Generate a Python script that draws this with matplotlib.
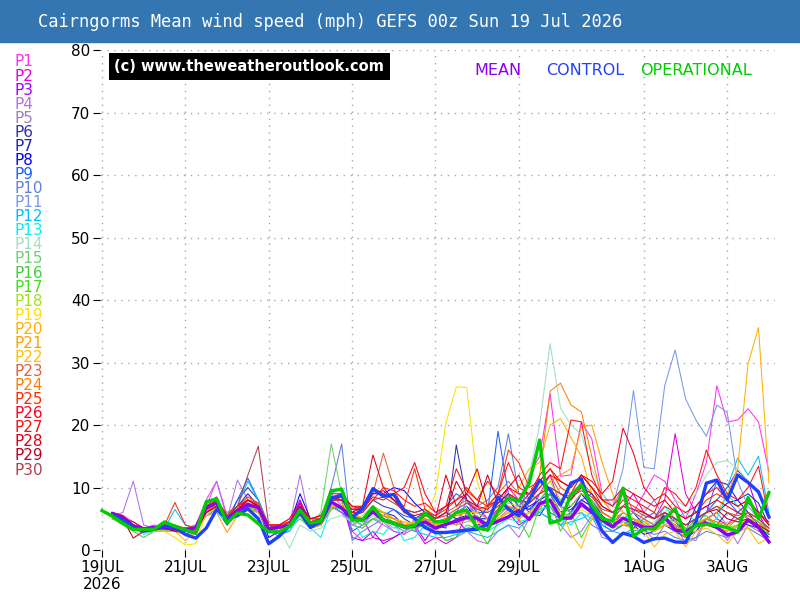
import numpy as np
import matplotlib
matplotlib.use("Agg")
import matplotlib.pyplot as plt
from matplotlib.patches import Rectangle

# forecast hours, 6-hourly from 00z Sun 19 Jul 2026
hours = list(range(0, 390, 6))

# operational run starts at t+0, all the rest at t+6
operational = [6.3, 5.4, 4.3, 3.3, 3.3, 3.3, 4.5, 3.8, 3.2, 2.7, 7.7, 8.2, 4.3, 5.9, 5.6, 4.2,
               2.9, 2.9, 3.8, 6.4, 4.3, 4.6, 9.5, 9.7, 4.8, 4.8, 6.9, 4.8, 4.3, 3.7, 3.9, 5.9,
               4.5, 4.6, 6.0, 6.4, 3.5, 3.2, 6.2, 8.3, 7.8, 10.7, 17.6, 4.3, 4.8, 8.8, 10.4, 7.2,
               5.0, 4.6, 9.9, 2.2, 3.4, 3.4, 5.0, 6.6, 2.4, 3.9, 4.1, 3.9, 3.6, 2.9, 8.4, 5.0, 9.2]

mean = [5.8, 5.2, 3.8, 3.4, 3.6, 3.5, 3.4, 3.2, 3.6, 6.8, 7.5, 4.9, 6.2, 7.2, 6.8, 3.3,
        3.7, 3.9, 6.7, 3.9, 4.5, 7.7, 6.7, 5.1, 4.8, 6.1, 4.8, 4.3, 3.7, 3.8, 4.5, 3.5,
        4.1, 4.6, 5.2, 5.1, 3.9, 4.6, 5.3, 6.3, 4.9, 7.4, 8.0, 5.1, 5.1, 7.4, 6.0, 4.8,
        3.7, 5.1, 4.3, 3.6, 3.6, 5.3, 3.2, 2.9, 3.9, 4.3, 3.6, 2.4, 2.9, 4.8, 3.6, 1.3]

control = [5.6, 4.8, 3.6, 3.0, 3.3, 3.8, 3.6, 2.5, 1.9, 3.5, 6.5, 5.0, 5.5, 6.6, 5.0, 1.0,
           2.2, 4.0, 6.0, 3.6, 4.6, 8.3, 8.8, 5.2, 6.6, 9.8, 8.6, 8.9, 6.4, 5.0, 3.6, 2.8,
           2.8, 3.0, 3.2, 3.3, 4.2, 8.5, 6.5, 5.5, 8.0, 11.2, 9.6, 7.2, 10.7, 11.4, 6.5, 3.0,
           1.2, 2.7, 2.2, 1.2, 1.8, 1.9, 1.3, 1.2, 4.5, 10.7, 11.2, 8.0, 12.0, 10.8, 9.3, 5.3]

p1 = [6, 5.5, 4.5, 3.5, 4, 3.5, 3, 3.5, 4, 8, 11, 5.5, 7, 8, 7.5, 3,
      4, 5, 8, 4, 5, 9, 7, 3, 1.5, 2, 4.5, 3, 2.5, 5, 6, 4,
      5, 4, 8, 5, 3, 6, 9, 4.5, 12, 15, 25, 11.8, 12, 20.5, 17.8, 9,
      7, 10, 6, 9, 12, 11, 8, 5, 9, 14, 26.3, 20.5, 20.8, 22.6, 20.5, 12.5]
p2 = [5.5, 5, 3.5, 3, 3.5, 4, 3.5, 3, 3.5, 7, 8.5, 5, 6.5, 7.5, 6, 3,
      3.5, 4, 7, 4.5, 4, 7, 6, 4, 5, 2, 1.5, 2, 3, 3.5, 1, 2,
      1, 2, 6, 7, 5, 6.5, 10, 8, 6, 9, 12, 7, 6, 9, 8, 6,
      5, 7, 9, 6, 5, 8, 18.6, 9, 6, 7, 5, 4, 6, 5.5, 4.5, 3]
p3 = [5, 4.5, 3.5, 3, 3, 3.5, 4, 3, 3, 6.5, 7, 4.5, 6, 8, 7, 3.5,
      4, 3.5, 8, 4, 5, 8, 8, 2, 1.5, 3, 1, 2, 3, 4, 1.5, 4,
      4, 5, 3, 4, 4.5, 5, 6, 4, 5, 7, 9, 6, 5, 8, 7, 5,
      4, 6, 5, 4, 3, 5, 4, 3, 5, 6, 8, 10, 12.7, 11, 6, 2.5]
p4 = [5.5, 6, 11, 4, 3.5, 3, 3.5, 3.5, 3.5, 7, 11, 5, 11.2, 8, 7, 3.5,
      3, 4, 12, 4, 4.5, 7, 6, 4, 3.5, 5, 4, 3, 2.5, 3.5, 4, 3,
      1.5, 2, 3, 1.5, 1, 3, 4, 2, 5, 8, 7, 4, 2, 3, 5.5, 2,
      1.5, 2.5, 3.5, 6, 8, 5, 4, 1, 2, 5, 4, 1.5, 4, 5, 3.5, 1]
p5 = [5, 4.5, 4, 3.5, 3, 3, 3, 2.5, 3, 6, 7.5, 5.5, 7, 7, 6.5, 4,
      4, 4.5, 6, 3.5, 4, 6.5, 7, 5.5, 5, 6, 5, 4.5, 3.5, 3, 4.5, 4,
      5, 6, 5, 4, 3.5, 5, 6.5, 7, 5, 6, 8, 6, 5, 7, 6, 5,
      4.5, 6, 5, 3.5, 1.5, 4, 5, 2, 1.5, 5, 6, 4, 1, 4, 3, 2]
p6 = [5.5, 5.5, 4, 3.5, 3.5, 4, 3.5, 3.5, 3, 6, 6.5, 4.5, 8, 10, 8, 4,
      3, 4, 7.5, 4, 5, 8.5, 8, 5.5, 6, 8, 7, 6.5, 5, 4, 5, 4,
      3.5, 16.8, 8, 6, 5, 6, 7, 5, 6, 5.5, 8, 6, 6.5, 8, 7, 5,
      4, 5, 4.5, 3, 4, 5, 3.5, 3, 4, 5, 4, 6, 5, 4, 3.5, 2.5]
p7 = [6, 5, 3.5, 3, 3.5, 3.5, 3, 3, 3.5, 6.5, 7, 5, 7, 9, 7, 3,
      3.5, 3.5, 6.5, 4, 4.5, 7, 6, 5, 4.5, 6.5, 6, 5.5, 4, 3.5, 5.5, 5,
      6, 5, 5.5, 4.5, 7, 9, 8, 6, 7, 8, 10, 7, 6, 9, 8, 5.5,
      4, 5, 6, 4, 3, 6, 4.5, 3, 7, 9, 11, 10.5, 8, 9, 7.5, 4]
p8 = [6, 5, 4, 3.5, 3.5, 3.5, 3.5, 3, 2.5, 6, 6.5, 4, 6, 7, 6.5, 2,
      3, 4, 9, 5, 5, 8, 8.5, 6, 7, 9, 9, 10, 9.5, 7.5, 6, 4.5,
      5, 6, 7, 5, 5, 7.5, 9, 7, 6.5, 8, 9, 6, 7, 9, 7, 4,
      3, 4, 4, 2.5, 3, 4, 3, 2, 3, 5, 6, 7.5, 8, 6, 4, 2]
p9 = [5.5, 5, 3.5, 3, 3.5, 3.5, 3, 2.5, 3.5, 6, 7, 5, 8, 11.5, 8, 3.5,
      2.5, 3, 6, 3.5, 4, 8, 9, 3, 4, 6, 5.5, 6.5, 5.5, 5, 6, 5.5,
      7, 9, 8, 6, 6, 19, 9, 7, 9, 8, 6, 5, 6, 8, 9, 6,
      5, 4, 3.5, 5, 6, 4, 3, 2, 4, 6, 11, 8, 6, 5, 4, 3]
p10 = [5, 4.5, 3.5, 3, 3, 3.5, 3.5, 3, 3, 5.5, 6.5, 4.5, 6.5, 8, 7, 3.5,
       2, 3.5, 6, 4, 5, 10, 17, 1.5, 3, 4, 5, 4, 3, 4.5, 5, 3.5,
       4, 6, 9, 7, 8, 10, 18.6, 9, 7, 6, 5, 4, 5.5, 6, 4, 3,
       3, 4, 5, 3, 2.5, 3, 2, 1.5, 2, 3, 2.5, 2, 3, 3.5, 2.5, 1.5]
p11 = [5.5, 5, 4, 3.5, 3.5, 3.5, 3.5, 3, 3.5, 6.5, 7.5, 5, 6, 7.5, 7, 4,
       4, 4.5, 6.5, 4, 4.5, 7, 6, 4.5, 4, 5, 4.5, 3.5, 4, 4.5, 5, 4,
       5, 6, 7, 6, 5, 6, 7, 5, 6, 7, 9, 8, 9, 12, 10, 8,
       7, 13, 25.5, 13.2, 13, 26.3, 32, 24.2, 20.8, 18.2, 23.2, 22, 11, 7, 5, 3]
p12 = [5.5, 5, 4, 3.5, 3, 3.5, 6.5, 4, 3.5, 7, 8, 5.5, 7, 11, 8, 4,
       4, 4.5, 7, 4, 4.5, 9, 10, 6, 5, 7, 6, 5, 4, 3, 2.5, 2,
       2, 2.5, 3, 2.5, 2, 3, 4, 3.5, 5, 6, 5, 4, 4.5, 5, 6, 4,
       3, 2.5, 3, 3.5, 4, 5, 4, 3, 5, 6, 8, 10, 14.7, 12, 15, 6]
p13 = [5, 4.5, 3.5, 2.5, 3, 3, 3.5, 3, 3, 5.5, 6, 4.5, 5.5, 6.5, 6, 3,
       3.5, 3, 5.5, 3.5, 2, 7, 6.5, 5, 2, 3, 2.5, 4.5, 1.5, 2, 4, 2.5,
       3, 2.5, 3.5, 4, 3, 4, 5, 4.5, 5, 6.5, 7, 5, 4, 6, 5, 4,
       4, 5, 6, 5, 4, 7, 5, 6, 4.5, 4, 5, 9, 7, 5, 4.5, 3]
p14 = [5, 4.5, 3.5, 2.5, 3, 3, 3, 2.5, 3, 6, 6.5, 4.5, 5.5, 6.5, 6, 3.5,
       3.5, 0.3, 4, 3, 3.5, 5, 5.5, 4.5, 4, 5.5, 4.5, 3.5, 3, 3.5, 4, 3.5,
       4, 4.5, 5, 6, 7, 8, 9, 8, 12, 20, 33, 22.7, 20, 18.5, 13, 9,
       7, 6, 5, 4, 4.5, 6, 8, 7, 9, 12, 14, 14.3, 13, 11, 9, 5]
p15 = [5.5, 5, 4, 3, 3, 3, 3.5, 3, 3, 6, 6.5, 4.5, 6, 7, 6.5, 3.5,
       3.5, 3.5, 6, 4, 6, 17, 9, 4, 3.5, 5, 4.5, 4, 3.5, 4, 4.5, 4,
       4.5, 4, 4.5, 5, 4, 5, 6, 5, 6, 8, 10, 7, 6, 7, 6, 5,
       4, 5, 4.5, 3.5, 4, 5, 4, 3, 4, 5, 4.5, 3.5, 4, 5, 4.5, 3]
p16 = [5, 4, 3, 2, 3, 3.5, 3, 3.5, 3, 6, 7, 5, 6, 7, 6, 3,
       3, 3.5, 5, 3.5, 4, 6.5, 7.5, 5, 4, 5, 5.5, 4.5, 4, 3.5, 4.5, 4,
       4, 4.5, 5, 5.5, 4, 5.5, 7, 6, 5, 6.5, 9, 6, 5.5, 7, 6.5, 5,
       4, 4.5, 4, 3.5, 3, 4, 3.5, 3, 5, 5.5, 4, 3.5, 5, 6, 5, 3.5]
p17 = [5.5, 5, 3.5, 3, 3.5, 3, 3, 3, 3.5, 6.5, 7.5, 5, 6, 6.5, 7, 3.5,
       3.5, 4, 6, 3.5, 4.5, 7, 6.5, 5.5, 5, 6, 5, 4, 3.5, 3.5, 4, 3.5,
       1.5, 2, 4, 3.5, 1, 4.5, 5.5, 5, 2, 7, 8, 3, 6, 2, 5, 4.5,
       3.5, 4, 5, 4.5, 3.5, 4.5, 5, 3.5, 4, 4, 3.5, 3, 4, 4.5, 4, 2.5]
p18 = [5, 5, 4, 3.5, 3.5, 3, 3, 3, 3.5, 6, 7, 5, 6.5, 7, 6.5, 3.5,
       3.5, 3.5, 6, 4, 4.5, 8, 8, 5, 5.5, 7, 6, 5, 4, 4, 4.5, 4,
       4, 4.5, 5.5, 5, 4.5, 6, 7.5, 7, 8, 9, 11, 8, 7, 9, 8, 6,
       5, 6, 5, 4, 3.5, 5, 4.5, 3.5, 4.5, 5, 4, 3.5, 4, 5, 4, 3]
p19 = [5.5, 4.5, 3.5, 3, 3, 3, 2, 0.8, 1.0, 6, 6.5, 4.5, 6, 7, 6.5, 3,
       3, 3.5, 6, 4, 4.5, 7.5, 7, 5, 4.5, 6, 5, 4.5, 4, 4.5, 5, 9,
       20.3, 26.1, 26, 11, 6, 5, 6, 5, 6, 7, 8, 6, 5, 6.5, 5.5, 5,
       4.5, 5, 4, 3.5, 3, 4, 3.5, 3, 4, 4.5, 4, 3, 4, 5, 4, 3]
p20 = [5.5, 5, 3.5, 3, 3, 3, 3, 1.5, 3, 6, 7, 5, 6, 7, 7, 3.5,
       3, 4, 5.5, 4, 5, 8, 8.5, 6, 5, 7, 6, 5, 4, 4.5, 5, 4,
       5, 5.5, 6, 6, 5, 7, 8, 10, 13, 14, 20, 21, 18, 15, 9, 6,
       5, 4, 4.5, 5, 3, 4, 3.5, 2, 4, 5, 6, 9, 13, 29.8, 35.6, 10.7]
p21 = [5, 4.5, 3.5, 3, 3.5, 3.5, 3, 2.5, 3, 5.5, 6, 2.8, 5.5, 6.5, 6, 3,
       3.5, 4, 5.5, 3.5, 4, 7, 7, 5, 5, 6.5, 6, 5, 4.5, 4, 5, 4.5,
       5, 4, 5, 4.5, 3.5, 5, 6, 6.5, 7.5, 9, 11, 12, 13, 19.7, 20, 14,
       9, 6, 5, 4, 3.5, 4, 3.5, 2.5, 3, 4, 3.5, 3, 4, 4.5, 4, 3]
p22 = [5.5, 5, 4, 3.5, 3, 3.5, 3.5, 3, 3.5, 6, 7, 5, 6, 7.5, 7, 4,
       4, 4.5, 6.5, 4, 4.5, 7, 7.5, 5.5, 5, 6, 5.5, 5, 4.5, 4, 4.5, 4,
       4, 4.5, 5, 4.5, 3.5, 5, 6, 5, 6, 7, 8, 7, 2.5, 0.3, 5, 6,
       5, 4, 3.5, 3, 0.5, 2.5, 3, 0.5, 3, 3.5, 2.5, 1, 3, 3.5, 1, 2]
p23 = [6, 5.5, 4, 3.5, 3.5, 4, 4, 3.5, 3, 6, 7.5, 6, 7, 8, 7.5, 4,
       4, 4.5, 7, 5, 5, 8, 8.5, 6, 6, 9, 15.5, 10, 6, 5, 5.5, 5,
       6, 7, 8, 6.5, 7, 9, 11, 9, 8, 10, 12, 9, 8, 11, 9, 6,
       5, 7, 6, 5, 4, 6, 5, 4, 5, 6, 7, 6, 5.5, 6, 5, 3.5]
p24 = [5.5, 5, 4, 3, 3.5, 3.5, 3, 3, 3.5, 6.5, 7, 5, 6.5, 7.5, 7, 3.5,
       3.5, 4, 6.5, 4, 4.5, 7.5, 7, 5, 5, 6.5, 5.5, 5, 4, 4, 5, 4.5,
       5, 5.5, 6, 5, 4, 5.5, 7, 6.5, 8, 12, 25.4, 26.7, 23.2, 22.1, 15, 8,
       6, 5, 4.5, 4, 3.5, 5, 4, 3, 4, 5, 4.5, 4, 5, 5.5, 4.5, 3]
p25 = [6, 5.5, 4, 3.5, 3.5, 4, 7.6, 4, 3.5, 7, 8, 5.5, 7, 8.5, 7.5, 4,
       4, 4.5, 7, 4.5, 5, 8, 8.5, 6.5, 7, 10, 9, 8, 7, 13, 6.5, 5.5,
       6.5, 8, 10, 8, 7, 9, 16, 14, 10, 11, 13, 10, 9, 12, 10, 7,
       6, 8, 7, 6, 5, 7, 6, 5, 6, 8, 9, 8, 7, 8, 6, 4]
p26 = [5.5, 5, 4, 3.5, 3.5, 3.5, 3.5, 3.5, 3.5, 6.5, 7.5, 5.5, 7, 8, 7, 4,
       4, 5, 7.5, 5, 5.5, 9, 9, 7, 6.5, 8.5, 8, 9, 10, 14, 9, 6,
       7, 8, 9, 7, 6.5, 8, 10, 9, 9, 11, 13, 11, 10, 12, 11, 9,
       11, 19.5, 15.5, 10, 8, 9, 7, 6, 7, 9, 10, 8, 7, 8, 6, 4.5]
p27 = [6, 5.5, 4, 3.5, 3.5, 3.5, 3, 3, 3.5, 6.5, 8, 5.5, 6.5, 8, 7, 3.5,
       3.5, 4, 6.5, 4.5, 5, 8.5, 8, 6, 6, 8, 10, 9.5, 8, 7, 7.5, 6,
       7, 13, 9.5, 8, 11, 9, 14, 10, 9, 12, 14, 13, 20.8, 20.5, 12, 8,
       7, 9, 8, 7, 6, 10, 9, 7, 10, 16, 12, 9, 8, 10, 13.4, 5]
p28 = [5.5, 5, 4.5, 3.5, 3.5, 3.5, 3.5, 3, 3.5, 6, 7, 5, 6.5, 7.5, 6.5, 3.5,
       3.5, 4.5, 7, 5, 5.5, 8, 8.5, 7, 7, 15.2, 10, 8, 6.5, 6, 6.5, 5,
       12, 7, 9, 13, 7, 8, 10, 12, 8, 10, 12, 11, 10, 12, 10, 8,
       8, 10, 9, 8, 7, 8, 6, 5, 6, 7, 8, 7, 6, 7.5, 6, 4]
p29 = [6, 5, 1.9, 3, 3.5, 3.5, 3, 3, 3, 6, 7, 5, 6.5, 8, 7, 3.5,
       3.5, 4, 7, 4.5, 5, 8, 8, 6.5, 6.5, 9, 9.5, 8, 6, 5.5, 6, 5,
       6, 11, 8, 7, 12, 7.5, 9, 8, 7.5, 9, 10, 9, 8, 10, 9, 7,
       6, 7, 6.5, 6, 5, 6, 5, 4, 5, 6, 6.5, 5, 4.5, 5, 4, 3]
p30 = [5.5, 5, 4, 3.5, 3.5, 3.5, 3.5, 3, 3.5, 6.5, 7.5, 5.5, 7, 12, 16.6, 4,
       3.5, 4, 6.5, 4.5, 5, 8, 8, 6.5, 6, 8, 8.5, 7.5, 6.5, 6, 6.5, 5,
       5.5, 6.5, 7.5, 6.5, 6, 7, 8.5, 8, 7.5, 9, 10, 9, 8.5, 9.5, 8.5, 6.5,
       6, 7, 6.5, 5.5, 5, 6, 5, 4, 5, 6, 7, 6, 5, 6, 5, 3.5]

members = [p1, p2, p3, p4, p5, p6, p7, p8, p9, p10, p11, p12, p13, p14, p15,
           p16, p17, p18, p19, p20, p21, p22, p23, p24, p25, p26, p27, p28, p29, p30]
member_names = ["P%d" % (k + 1) for k in range(30)]
member_colors = ["#ff33ee", "#e000e0", "#a000ff", "#b070f0", "#9f80c0", "#3030b0",
                 "#2020c0", "#0000ff", "#2060ff", "#6080e0", "#7898e8", "#00c0ff",
                 "#00f0f0", "#a0e0c0", "#70d070", "#40d040", "#40e020", "#a0e020",
                 "#ffe000", "#ffb000", "#ffa000", "#ffc000", "#e06040", "#ff8000",
                 "#ff3000", "#ff0020", "#ff1010", "#e00010", "#c00020", "#b04050"]

tick_hours = [0, 48, 96, 144, 192, 240, 312, 360]
tick_labels = ["19JUL\n2026", "21JUL", "23JUL", "25JUL", "27JUL", "29JUL", "1AUG", "3AUG"]

fig = plt.figure(figsize=(8, 6), dpi=100)

# blue title bar
fig.patches.append(Rectangle((0, 0.93), 1, 0.07, transform=fig.transFigure,
                             color="#3476b2", zorder=0))
fig.text(0.0475, 0.964, "Cairngorms Mean wind speed (mph) GEFS 00z Sun 19 Jul 2026",
         color="white", fontsize=12.3, family="DejaVu Sans Mono", va="center")

ax = fig.add_axes([0.125, 0.08333, 0.84375, 0.83333])
for k, vals in enumerate(members):
    ax.plot(hours[1:], vals, color=member_colors[k], lw=0.75)
ax.plot(hours[1:], mean, color="#8a00f0", lw=2.4)
ax.plot(hours[1:], control, color="#2040ff", lw=2.4)
ax.plot(hours, operational, color="#00cc00", lw=2.4)

ax.set_xlim(-1.15, 387.5)
ax.set_ylim(0, 80)
ax.set_yticks(range(0, 81, 10))
ax.set_xticks(tick_hours)
ax.set_xticklabels(tick_labels, fontsize=11)
ax.tick_params(axis="y", labelsize=11, length=5, width=0.8, pad=2)
ax.tick_params(axis="x", length=5, width=0.8, pad=2)
for s in ax.spines.values():
    s.set_visible(False)
ax.grid(True, color="#a8a8a8", linestyle=(0, (1, 4)), lw=1)
ax.set_axisbelow(True)

# watermark and line key
ax.text(0.021, 0.967, "(c) www.theweatheroutlook.com", transform=ax.transAxes,
        color="white", fontsize=10.5, fontweight="bold", va="center",
        bbox=dict(facecolor="black", edgecolor="none", pad=4))
ax.text(0.554, 0.96, "MEAN", transform=ax.transAxes, color="#8a00f0", fontsize=11.5, va="center")
ax.text(0.661, 0.96, "CONTROL", transform=ax.transAxes, color="#2040ff", fontsize=11.5, va="center")
ax.text(0.800, 0.96, "OPERATIONAL", transform=ax.transAxes, color="#00cc00", fontsize=11.5, va="center")

# member names down the left side
for k, name in enumerate(member_names):
    fig.text(0.018, 1 - (62 + 14.07 * k) / 600, name, color=member_colors[k],
             fontsize=11, va="center")

fig.savefig("out.png")
